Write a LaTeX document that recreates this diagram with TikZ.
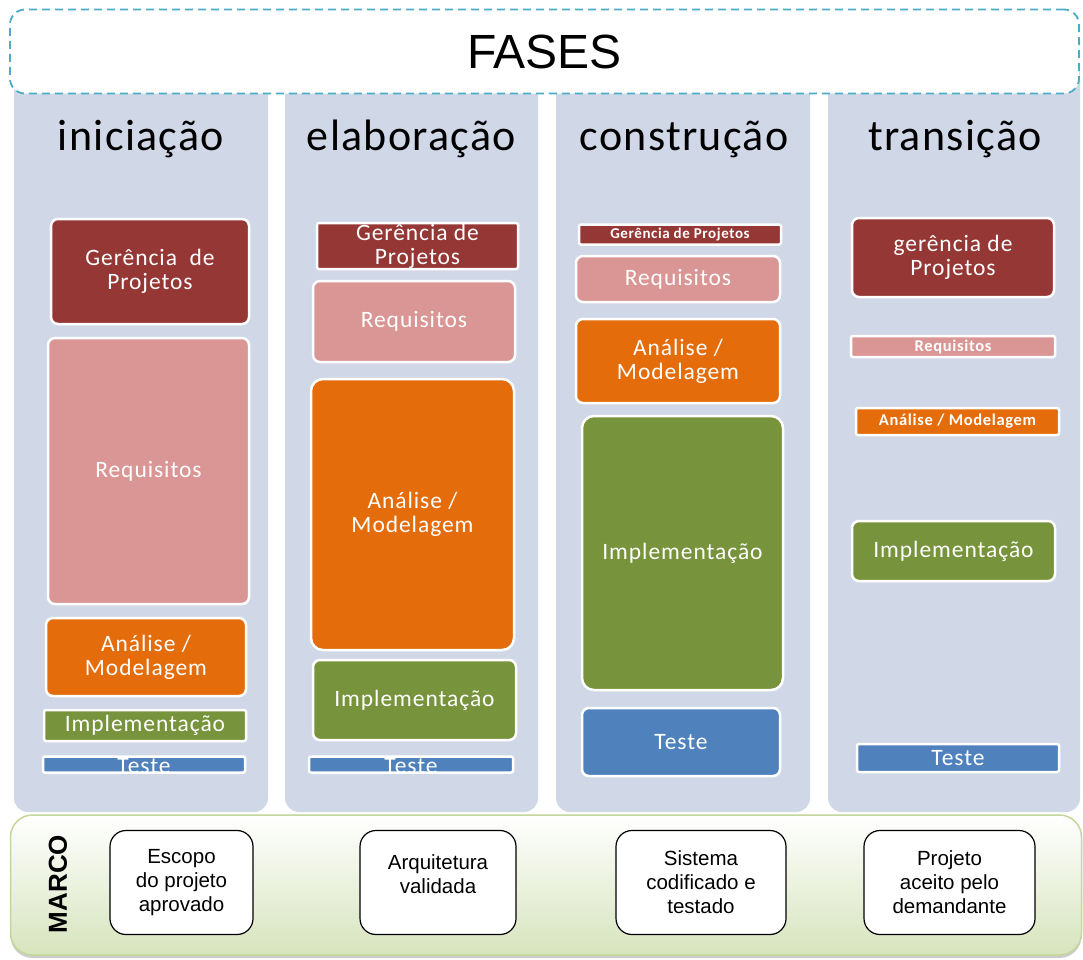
\documentclass[tikz,border=0pt]{standalone}
\usepackage{fontspec}
\setmainfont{Liberation Sans}
\newfontfamily\calibri[LetterSpace=3]{Carlito}
\newfontfamily\boxfont[LetterSpace=4]{Carlito}
\usepackage{tikz}
\usetikzlibrary{positioning}
\usetikzlibrary{shadows}

\definecolor{fundo}{HTML}{D0D8E8}
\definecolor{gerencia}{HTML}{953735}
\definecolor{requisitos}{HTML}{D99694}
\definecolor{analise}{HTML}{E46C0A}
\definecolor{implementacao}{HTML}{77933C}
\definecolor{teste}{HTML}{4F81BD}
\definecolor{tracejado}{HTML}{4BACC6}
\definecolor{verde}{HTML}{D7E4BD}
\definecolor{verdeborda}{HTML}{C3D69B}

\tikzset{
  fase/.style={fill=fundo, rounded corners=14pt, inner sep=0pt},
  titulo/.style={anchor=base, font=\calibri\fontsize{44}{46}\selectfont},
  bloco/.style={draw=white, line width=2.5pt, rounded corners=7pt, text=white,
    align=center, inner sep=0pt, font=\boxfont\fontsize{23.5}{24}\selectfont},
  miudo/.style={rounded corners=2pt, font=\boxfont\bfseries\fontsize{16.5}{17}\selectfont},
  marco/.style={draw=black, line width=1.2pt, rounded corners=16pt, fill=white,
    align=center, inner sep=0pt, minimum height=104pt, font=\fontsize{20.5}{24}\selectfont}
}

\begin{document}
\begin{tikzpicture}[x=1pt, y=-1pt]
       \useasboundingbox (0,0) rectangle (1083,959);

       % colunas
       \node[fase, minimum width=254pt, minimum height=752pt] (Col_Ini) at (141,436) {};
       \node[fase, minimum width=253pt, minimum height=752pt] (Col_Ela) at (411.5,436) {};
       \node[fase, minimum width=254pt, minimum height=752pt] (Col_Con) at (683,436) {};
       \node[fase, minimum width=252pt, minimum height=752pt] (Col_Tra) at (954,436) {};

       \node[draw=tracejado, line width=1.8pt, dash pattern=on 8pt off 5pt, fill=white,
       rounded corners=15pt, minimum width=1069pt, minimum height=84pt,
       font=\fontsize{48}{50}\selectfont] (Fases) at (544.5,51.5) {FASES};

       \node[titulo] (T_Ini) at (141,150) {iniciação};
       \node[titulo] (T_Ela) at (411.5,150) {elaboração};
       \node[titulo] (T_Con) at (684,150) {construção};
       \node[titulo] (T_Tra) at (955,150) {transição};

       % iniciacao
       \node[bloco, fill=gerencia, minimum width=198pt, minimum height=105pt] (Ger_Ini) at (150,271.5) {Gerência~~de\\Projetos};
       \node[bloco, fill=requisitos, minimum width=201pt, minimum height=266pt] (Req_Ini) at (148.5,471) {Requisitos};
       \node[bloco, fill=analise, minimum width=200pt, minimum height=78pt] (Ana_Ini) at (146,657) {Análise /\\Modelagem};
       \node[bloco, fill=implementacao, rounded corners=2pt, minimum width=202pt, minimum height=31pt] (Imp_Ini) at (145,725.5) {Implementação};
       \node[bloco, fill=teste, rounded corners=2pt, minimum width=202pt, minimum height=16pt] (Tes_Ini) at (144,764.5) {};
       \begin{scope}
         \clip (Tes_Ini.south west) rectangle (Tes_Ini.north east);
         \node[anchor=base, text=white, font=\boxfont\fontsize{23.5}{24}\selectfont] at (144,773) {Teste};
       \end{scope}

       % elaboracao
       \node[bloco, fill=gerencia, rounded corners=2pt, minimum width=201pt, minimum height=46pt] (Ger_Ela) at (417.5,246) {Gerência de\\Projetos};
       \node[bloco, fill=requisitos, minimum width=202pt, minimum height=81pt] (Req_Ela) at (414,321.5) {Requisitos};
       \node[bloco, fill=analise, rounded corners=12pt, minimum width=203pt, minimum height=271pt] (Ana_Ela) at (412.5,514.5) {Análise /\\Modelagem};
       \node[bloco, fill=implementacao, minimum width=203pt, minimum height=80pt] (Imp_Ela) at (414.5,700) {Implementação};
       \node[bloco, fill=teste, rounded corners=2pt, minimum width=204pt, minimum height=16pt] (Tes_Ela) at (411,764.5) {};
       \begin{scope}
         \clip (Tes_Ela.south west) rectangle (Tes_Ela.north east);
         \node[anchor=base, text=white, font=\boxfont\fontsize{23.5}{24}\selectfont] at (411,773) {Teste};
       \end{scope}

       % construcao
       \node[bloco, miudo, fill=gerencia, minimum width=202pt, minimum height=20pt,
       font=\boxfont\bfseries\fontsize{15}{16}\selectfont] (Ger_Con) at (680,234.5) {Gerência de Projetos};
       \node[bloco, fill=requisitos, minimum width=204pt, minimum height=46pt] (Req_Con) at (678,279) {Requisitos};
       \node[bloco, fill=analise, minimum width=204pt, minimum height=84pt] (Ana_Con) at (678,361) {Análise /\\Modelagem};
       \node[bloco, fill=implementacao, rounded corners=12pt, minimum width=201pt, minimum height=274pt] (Imp_Con) at (682.5,553) {Implementação};
       \node[bloco, fill=teste, minimum width=198pt, minimum height=68pt] (Tes_Con) at (681,742) {Teste};

       % transicao
       \node[bloco, fill=gerencia, minimum width=202pt, minimum height=79pt] (Ger_Tra) at (953,257.5) {gerência de\\Projetos};
       \node[bloco, miudo, fill=requisitos, minimum width=204pt, minimum height=21pt] (Req_Tra) at (953,346.5) {Requisitos};
       \node[bloco, miudo, fill=analise, minimum width=203pt, minimum height=27pt] (Ana_Tra) at (957.5,421.5) {Análise / Modelagem};
       \node[bloco, fill=implementacao, minimum width=203pt, minimum height=60pt] (Imp_Tra) at (953.5,551) {Implementação};
       \node[bloco, fill=teste, rounded corners=2pt, minimum width=202pt, minimum height=28pt] (Tes_Tra) at (958,758) {Teste};

       % marcos
       \node[draw=verdeborda, line width=1.5pt, rounded corners=22pt, top color=white,
       bottom color=verde, minimum width=1071pt, minimum height=140pt,
       drop shadow={shadow xshift=0pt, shadow yshift=-3pt, opacity=.4}] (Marco) at (546,885) {};
       \node[rotate=90, font=\bfseries\fontsize{26}{28}\selectfont] (Marco_Txt) at (58,884) {MARCO};

       \node[marco, minimum width=143pt] (M_Ini) at (181.5,882.5) {Escopo\\do projeto\\aprovado};
       \node[marco, minimum width=156pt] (M_Ela) at (438,882.5) {Arquitetura\\validada\\[-8pt]};
       \node[marco, minimum width=170pt] (M_Con) at (701,882.5) {Sistema\\codificado e\\testado};
       \node[marco, minimum width=171pt] (M_Tra) at (949.5,882.5) {Projeto\\aceito pelo\\demandante};

     \end{tikzpicture}
\end{document}
